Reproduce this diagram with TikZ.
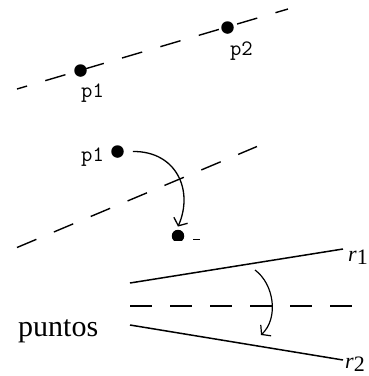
\documentclass[tikz,border=0pt]{standalone}
\usepackage{fontspec}
\setmainfont{Liberation Serif}
\usetikzlibrary{arrows.meta}

\tikzset{
  dot/.style={circle,fill,inner sep=0pt,minimum size=12.5pt},
  plabel/.style={font=\ttfamily\fontsize{22}{22}\selectfont,inner sep=0pt},
  rlabel/.style={font=\fontsize{22}{22}\selectfont,inner sep=0pt,anchor=base west},
  gapline/.style={line width=1.4pt,dash pattern=on 21pt off 19pt},
}

\begin{document}
\begin{tikzpicture}[x=1pt,y=-1pt,>={Straight Barb[length=6pt,width=15pt]}]
  \useasboundingbox (0,0) rectangle (368,376);
  \draw[gapline,dash phase=10.5pt] (17,89) -- (288,9);
  \node[dot] (a1) at (80.5,70.5) {};
  \node[dot] (a2) at (227.5,27.5) {};
  \node[plabel] (la1) at (92.5,93.5) {p1};
  \node[plabel] (la2) at (241.5,51.5) {p2};
  \draw[gapline] (17,247.5) -- (257,146.5);
  \node[dot] (b1) at (117.5,151.5) {};
  \node[plabel] (lb1) at (92.5,157.5) {p1};
  \begin{scope}
    \clip (160,220) rectangle (200,240);
    \node[dot] (b2) at (178,236) {};
  \end{scope}
  \draw[line width=1.2pt] (193,239.5) -- (200,239.5);
  \draw[line width=1.3pt,->] ([xshift=9pt]b1.east) .. controls (176,151) and (194,190) .. ([yshift=3pt]b2.north);
  \coordinate (r1a) at (130,283);
  \coordinate (r1b) at (343,249);
  \coordinate (r2a) at (130,325);
  \coordinate (r2b) at (343,360);
  \draw[line width=1.5pt] (r1a) -- (r1b);
  \draw[line width=1.5pt] (r2a) -- (r2b);
  \draw[line width=1.4pt,dash pattern=on 22pt off 18pt] (130,306) -- (352,306);
  \node[rlabel] (lr1) at (348,261) {\textit{r}\raisebox{-3pt}{1}};
  \node[rlabel] (lr2) at (345,368) {\textit{r}\raisebox{-3pt}{2}};
  \node[font=\fontsize{30}{30}\selectfont,inner sep=0pt,anchor=base west] (pts) at (18,336) {puntos};
  \coordinate (c1) at (255,270);
  \coordinate (c2) at (261,335);
  \draw[line width=1.2pt,->] (c1) .. controls (274,284) and (279,318) .. (c2);
\end{tikzpicture}
\end{document}
